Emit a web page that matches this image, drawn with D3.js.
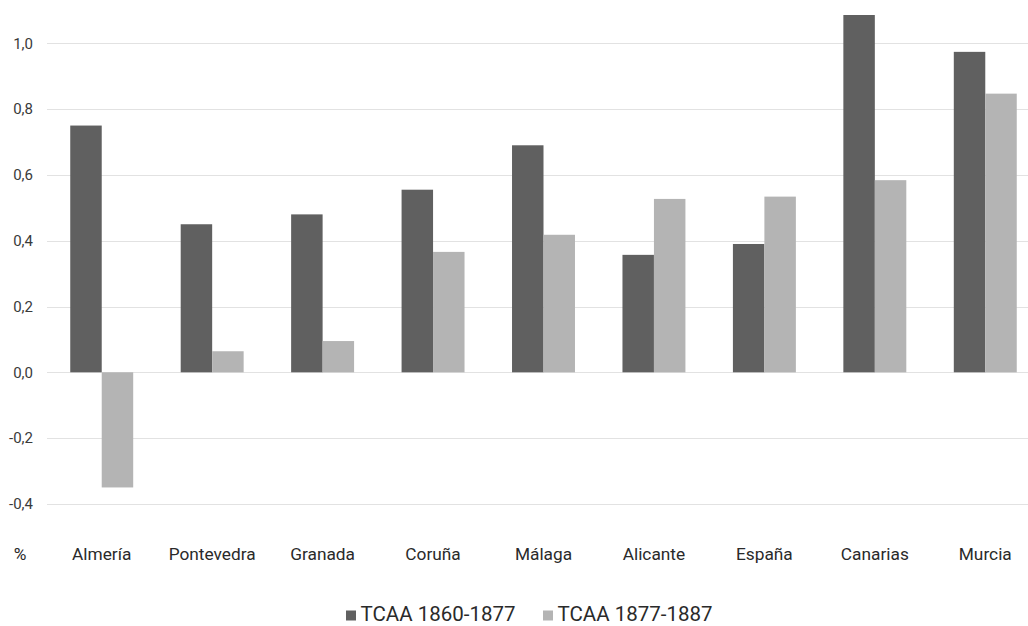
<!DOCTYPE html>
<html>
<head>
<meta charset="utf-8">
<script src="https://cdn.jsdelivr.net/npm/d3@7"></script>
<style>
  html, body { margin: 0; padding: 0; background: #fff; }
  svg { display: block; font-family: Roboto, "Noto Sans", sans-serif; }
</style>
</head>
<body>
<svg id="chart" width="1028" height="626"></svg>
<script>
// Average annual growth rates (%) by province
const categories = ["Almería", "Pontevedra", "Granada", "Coruña", "Málaga", "Alicante", "España", "Canarias", "Murcia"];
const seriesNames = ["TCAA 1860-1877", "TCAA 1877-1887"];
const tcaa1860_1877 = [0.75, 0.45, 0.48, 0.555, 0.69, 0.357, 0.39, 1.086, 0.974];
const tcaa1877_1887 = [-0.35, 0.064, 0.095, 0.366, 0.418, 0.527, 0.534, 0.584, 0.847];
const yTicks = [-0.4, -0.2, 0.0, 0.2, 0.4, 0.6, 0.8, 1.0];
const colors = ["#606060", "#b4b4b4"];

const series = [tcaa1860_1877, tcaa1877_1887];
const svg = d3.select("#chart");
const W = 1028;

const y = d3.scaleLinear().domain([0, 1]).range([372.3, 43.3]);
const x0 = d3.scaleBand().domain(categories).range([46.5, 1040.5])
  .paddingInner(0.43).paddingOuter(0.215);
const x1 = d3.scaleBand().domain(d3.range(series.length)).range([0, x0.bandwidth()]).padding(0);

const fmt = v => d3.format(".1f")(v).replace(".", ",").replace("−", "-");

// Horizontal gridlines
svg.append("g").selectAll("line").data(yTicks).join("line")
  .attr("x1", 47).attr("x2", W)
  .attr("y1", d => Math.round(y(d)) + 0.5).attr("y2", d => Math.round(y(d)) + 0.5)
  .attr("stroke", "#e2e2e2").attr("stroke-width", 1.2);

// Tick labels
svg.append("g").selectAll("text").data(yTicks).join("text")
  .attr("x", 33).attr("y", d => y(d)).attr("dy", "0.35em")
  .attr("text-anchor", "end").attr("font-size", 15).attr("fill", "#3a3a3a")
  .text(fmt);

// Bars
const groups = svg.append("g").selectAll("g").data(categories).join("g")
  .attr("transform", c => `translate(${x0(c)},0)`);
groups.selectAll("rect")
  .data((c, i) => series.map((s, k) => ({ k, v: s[i] })))
  .join("rect")
  .attr("x", d => x1(d.k))
  .attr("width", x1.bandwidth())
  .attr("y", d => y(Math.max(0, d.v)))
  .attr("height", d => Math.abs(y(d.v) - y(0)))
  .attr("fill", d => colors[d.k]);

// Category labels
svg.append("g").selectAll("text").data(categories).join("text")
  .attr("x", c => x0(c) + x0.bandwidth() / 2).attr("y", 560)
  .attr("text-anchor", "middle").attr("font-size", 17.3).attr("fill", "#2a2a2a")
  .text(c => c);

svg.append("text").attr("x", 20).attr("y", 560).attr("text-anchor", "middle")
  .attr("font-size", 17.3).attr("fill", "#2a2a2a").text("%");

// Legend
const legendX = [346, 543];
const legend = svg.append("g").selectAll("g").data(seriesNames).join("g")
  .attr("transform", (d, i) => `translate(${legendX[i]},0)`);
legend.append("rect").attr("x", 0).attr("y", 610.5).attr("width", 10).attr("height", 10)
  .attr("fill", (d, i) => colors[i]);
legend.append("text").attr("x", 14.5).attr("y", 620.5).attr("font-size", 20.5)
  .attr("fill", "#2a2a2a").text(d => d);
</script>
</body>
</html>
